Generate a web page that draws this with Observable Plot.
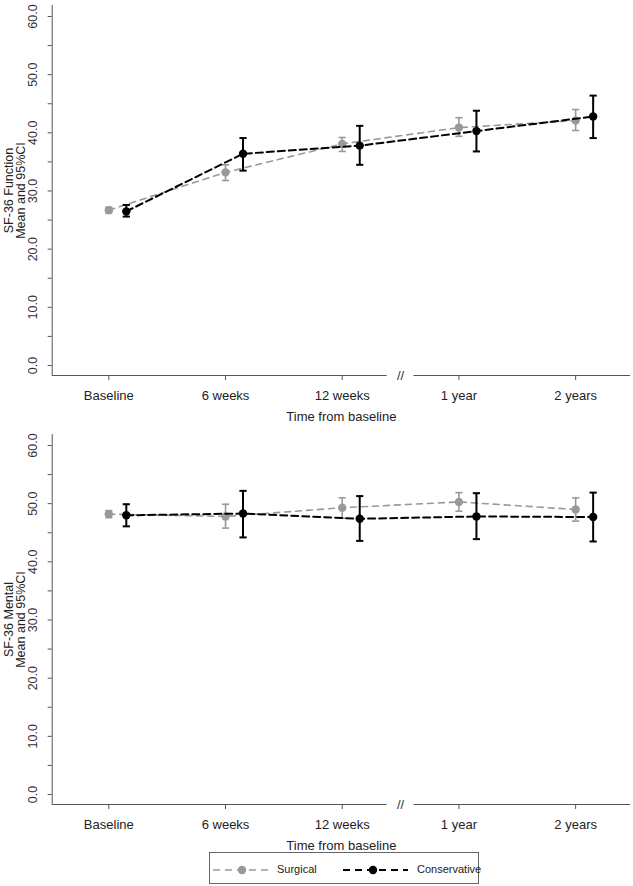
<!DOCTYPE html>
<html>
<head>
<meta charset="utf-8">
<script src="https://cdn.jsdelivr.net/npm/d3@7"></script>
<script src="https://cdn.jsdelivr.net/npm/@observablehq/plot@0.6"></script>
<style>
  body { margin: 0; background: #fff; font-family: "Liberation Sans", Arial, sans-serif; }
  #chart { position: relative; width: 633px; height: 886px; overflow: hidden; }
  #chart svg { display: block; }
  .legend { position: absolute; left: 209px; top: 852px; width: 270px; height: 32px; border: 1px solid #666; box-sizing: border-box; font-size: 11px; color: #222; }
  .legend svg { position: absolute; top: 10px; }
  .legend span { position: absolute; top: 9px; line-height: 14px; white-space: nowrap; }
</style>
</head>
<body>
<div id="chart"></div>
<script>
// ---- data ----
const timepoints = ["Baseline", "6 weeks", "12 weeks", "1 year", "2 years"];

const surgicalFunctionMean = [26.7, 33.2, 38.1, 40.9, 42.1];
const surgicalFunctionLow  = [26.2, 31.8, 36.8, 39.4, 40.4];
const surgicalFunctionHigh = [27.2, 34.5, 39.2, 42.6, 44.0];

const conservativeFunctionMean = [26.5, 36.4, 37.8, 40.3, 42.8];
const conservativeFunctionLow  = [25.6, 33.5, 34.5, 36.8, 39.1];
const conservativeFunctionHigh = [27.6, 39.1, 41.2, 43.8, 46.4];

const surgicalMentalMean = [48.2, 47.8, 49.3, 50.3, 49.0];
const surgicalMentalLow  = [47.6, 45.8, 47.5, 48.7, 47.0];
const surgicalMentalHigh = [48.8, 49.9, 51.0, 51.9, 51.0];

const conservativeMentalMean = [48.0, 48.3, 47.4, 47.8, 47.7];
const conservativeMentalLow  = [46.1, 44.2, 43.6, 43.9, 43.5];
const conservativeMentalHigh = [49.9, 52.2, 51.3, 51.8, 51.9];

const yMajorTicks = [0, 10, 20, 30, 40, 50, 60];
const yMinorTicks = [5, 15, 25, 35, 45, 55];
const xAxisTitle = "Time from baseline";
const functionTitle = "SF-36 Function\nMean and 95%CI";
const mentalTitle = "SF-36 Mental\nMean and 95%CI";
const seriesNames = ["Surgical", "Conservative"];

// ---- helpers ----
function rows(mean, low, high) {
  return timepoints.map((t, i) => ({i, t, mean: mean[i], low: low[i], high: high[i]}));
}
const capSymbol = {
  draw(ctx, size) {
    const r = Math.sqrt(size / Math.PI);
    ctx.moveTo(-r, 0);
    ctx.lineTo(r, 0);
  }
};
const GREY = "#999999";
const BLACK = "#000000";
const AXIS = "#555555";
const FONT = "Liberation Sans, Arial, sans-serif";

function seriesMarks(data, color, width, dx, dash) {
  return [
    Plot.line(data, {x: "i", y: "mean", stroke: color, strokeWidth: width, strokeDasharray: dash, dx}),
    Plot.ruleX(data, {x: "i", y1: "low", y2: "high", stroke: color, strokeWidth: width, dx}),
    Plot.dot(data, {x: "i", y: "low", symbol: capSymbol, r: 3.6, stroke: color, strokeWidth: width, dx}),
    Plot.dot(data, {x: "i", y: "high", symbol: capSymbol, r: 3.6, stroke: color, strokeWidth: width, dx}),
    Plot.dot(data, {x: "i", y: "mean", r: 4.2, fill: color, stroke: "none", dx})
  ];
}

function panel({surg, cons, title, height, marginBottom}) {
  const xDomain = [-0.485, 4.47];
  const yDomain = [-1.72, 61.89];
  const breakAt = 2.5, breakHalf = 0.115;
  return Plot.plot({
    width: 633,
    height,
    marginLeft: 51.7,
    marginRight: 3,
    marginTop: 5,
    marginBottom,
    style: {fontFamily: FONT, background: "#fff", color: "#222", overflow: "visible"},
    x: {domain: xDomain, axis: null},
    y: {domain: yDomain, axis: null},
    marks: [
      // y axis line + ticks
      Plot.ruleX([xDomain[0]], {y1: yDomain[0], y2: yDomain[1], stroke: AXIS, strokeWidth: 1}),
      Plot.axisY([...yMajorTicks, ...yMinorTicks], {x: xDomain[0], tickSize: 4, tickFormat: () => "", stroke: AXIS, label: null}),
      Plot.text(yMajorTicks, {x: xDomain[0], y: d => d, text: d => d.toFixed(1), rotate: -90, dx: -19, fontSize: 12.5, textAnchor: "middle", lineAnchor: "middle", fill: "#333"}),
      // y title
      Plot.text([title], {frameAnchor: "left", text: d => d, rotate: -90, dx: -37, fontSize: 12.5, lineHeight: 1.0, textAnchor: "middle", lineAnchor: "middle", fill: "#222"}),
      // x axis line with break
      Plot.ruleY([yDomain[0]], {x1: xDomain[0], x2: breakAt - breakHalf, stroke: AXIS, strokeWidth: 1}),
      Plot.ruleY([yDomain[0]], {x1: breakAt + breakHalf, x2: xDomain[1], stroke: AXIS, strokeWidth: 1}),
      Plot.text(["//"], {x: breakAt, y: yDomain[0], text: d => d, fontSize: 13, fill: "#333", lineAnchor: "middle"}),
      Plot.axisX(d3.range(timepoints.length), {y: yDomain[0], tickSize: 5, tickPadding: 10, tickFormat: i => timepoints[i], fontSize: 13, stroke: AXIS, fill: "#222", label: null}),
      Plot.text([xAxisTitle], {frameAnchor: "bottom", text: d => d, dy: 41, fontSize: 13, fill: "#222", lineAnchor: "middle"}),
      // data
      ...seriesMarks(surg, GREY, 1.6, 0, "6,5"),
      ...seriesMarks(cons, BLACK, 2, 17.5, "7,4")
    ]
  });
}

const chart = document.getElementById("chart");
chart.append(panel({
  surg: rows(surgicalFunctionMean, surgicalFunctionLow, surgicalFunctionHigh),
  cons: rows(conservativeFunctionMean, conservativeFunctionLow, conservativeFunctionHigh),
  title: functionTitle, height: 429, marginBottom: 54
}));
chart.append(panel({
  surg: rows(surgicalMentalMean, surgicalMentalLow, surgicalMentalHigh),
  cons: rows(conservativeMentalMean, conservativeMentalLow, conservativeMentalHigh),
  title: mentalTitle, height: 422, marginBottom: 47
}));

// ---- legend ----
const legend = document.createElement("div");
legend.className = "legend";
function legendItem(left, width, dotX, color, sw, label, labelLeft) {
  const ns = "http://www.w3.org/2000/svg";
  const svg = document.createElementNS(ns, "svg");
  svg.setAttribute("width", width);
  svg.setAttribute("height", 14);
  svg.style.left = left + "px";
  const line = document.createElementNS(ns, "line");
  line.setAttribute("x1", 0); line.setAttribute("x2", width);
  line.setAttribute("y1", 7); line.setAttribute("y2", 7);
  line.setAttribute("stroke", color); line.setAttribute("stroke-width", sw);
  line.setAttribute("stroke-dasharray", "7,5");
  const c = document.createElementNS(ns, "circle");
  c.setAttribute("cx", dotX); c.setAttribute("cy", 7); c.setAttribute("r", 4.2);
  c.setAttribute("fill", color);
  svg.append(line, c);
  const span = document.createElement("span");
  span.textContent = label;
  span.style.left = labelLeft + "px";
  legend.append(svg, span);
}
legendItem(3, 58, 29, GREY, 1.6, seriesNames[0], 67);
legendItem(133, 65, 30, BLACK, 2, seriesNames[1], 207);
chart.append(legend);
</script>
</body>
</html>
